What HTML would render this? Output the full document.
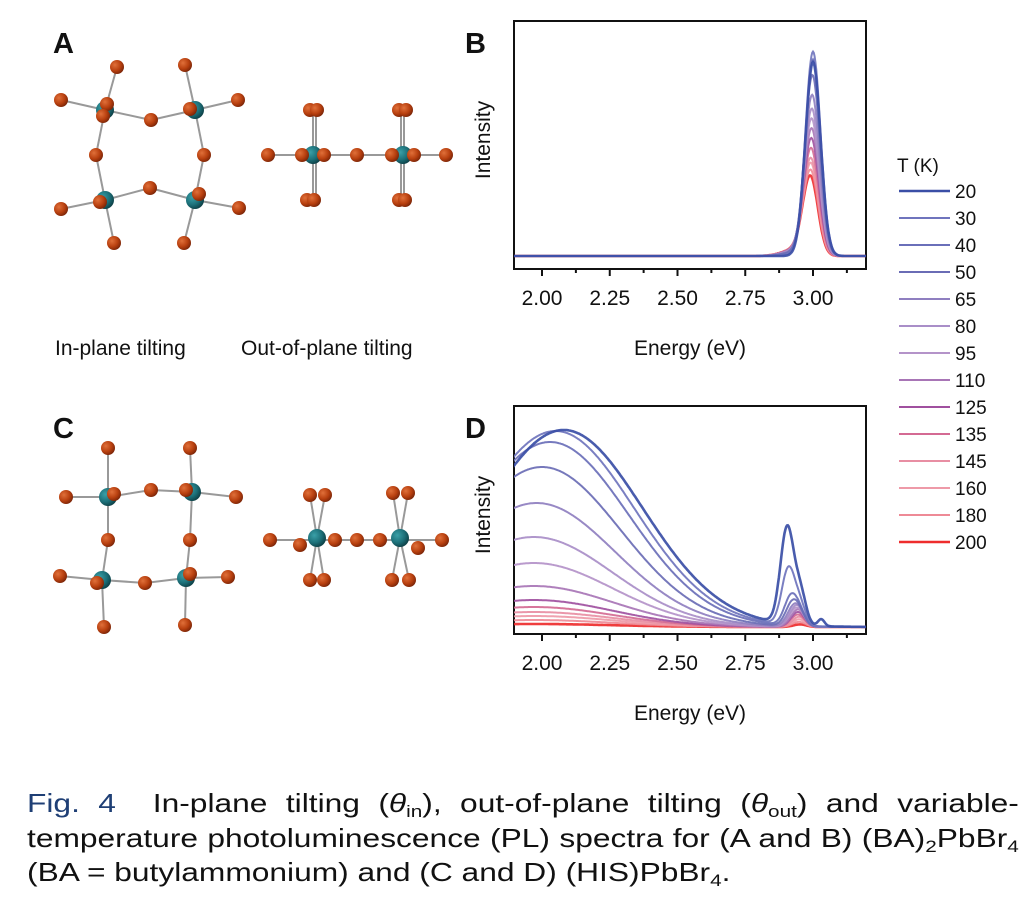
<!DOCTYPE html>
<html><head><meta charset="utf-8"><style>
html,body{margin:0;padding:0;background:#fff;}
body{width:1036px;height:901px;overflow:hidden;position:relative;font-family:"Liberation Sans",sans-serif;}
svg{position:absolute;left:0;top:0;}
.ln{position:absolute;left:27px;width:813px;font-size:26px;line-height:34px;height:34px;color:#111;white-space:nowrap;transform:scaleX(1.22);transform-origin:0 0;}
.j{text-align:justify;text-align-last:justify;}
.ln sub{font-size:17px;position:relative;top:5px;vertical-align:baseline;line-height:0;}
</style></head><body>
<svg id="fig" width="1036" height="901" viewBox="0 0 1036 901">
<defs>
<radialGradient id="br" cx="35%" cy="35%" r="70%"><stop offset="0" stop-color="#e0703a"/><stop offset="0.6" stop-color="#b8400f"/><stop offset="1" stop-color="#7a2508"/></radialGradient>
<radialGradient id="pb" cx="35%" cy="35%" r="70%"><stop offset="0" stop-color="#3aa0a8"/><stop offset="0.6" stop-color="#1c6f78"/><stop offset="1" stop-color="#0d3f45"/></radialGradient>
<clipPath id="clipB"><rect x="514" y="21" width="352" height="247"/></clipPath>
<clipPath id="clipD"><rect x="514" y="406" width="352" height="227"/></clipPath>
</defs>
<g font-family="Liberation Sans, sans-serif" font-weight="bold" font-size="29" fill="#111">
<text x="53" y="53">A</text>
<text x="465" y="53">B</text>
<text x="53" y="438">C</text>
<text x="465" y="438">D</text>
</g>
<g id="mols"></g>
<g font-family="Liberation Sans, sans-serif" font-size="21" fill="#111">
<text x="55" y="355">In-plane tilting</text>
<text x="241" y="355">Out-of-plane tilting</text>
</g>
<g id="panelB"></g>
<g id="panelD"></g>
<g id="legend"></g>
</svg>
<div>
<div class="ln j" style="top:786px"><span style="color:#1f3f75">Fig. 4</span>&nbsp; In-plane tilting (<i>θ</i><sub>in</sub>), out-of-plane tilting (<i>θ</i><sub>out</sub>) and variable-</div>
<div class="ln j" style="top:821px">temperature photoluminescence (PL) spectra for (A and B) (BA)<sub>2</sub>PbBr<sub>4</sub></div>
<div class="ln" style="top:855px">(BA = butylammonium) and (C and D) (HIS)PbBr<sub>4</sub>.</div>
</div>
<script>
const temps=[20,30,40,50,65,80,95,110,125,135,145,160,180,200];
const colors=["#3a4ea6","#6f74bd","#6a6fb9","#6a6cb5","#8f7fc0","#a98ec8","#b493c9","#a875b6","#a0509f","#d46a93","#e88ea3","#ee9aa8","#ee8a96","#ee2c2c"];
const xTicks=[2.00,2.25,2.50,2.75,3.00];
const xMinor=[2.125,2.375,2.625,2.875,3.125];
// Panel B: narrow peak amplitude per temperature
const bAmp=[0.97,1.02,0.98,0.90,0.80,0.73,0.68,0.63,0.58,0.53,0.48,0.455,0.42,0.39];
const bCenter=[3.0,3.0,3.0,2.998,2.997,2.996,2.995,2.995,2.994,2.993,2.992,2.992,2.991,2.99];
// Panel D: broad band and narrow peak amplitudes
const dBroad=[0.985,0.98,0.925,0.80,0.62,0.45,0.32,0.205,0.135,0.10,0.075,0.055,0.035,0.015];
const dBroadC=[2.08,2.05,2.03,2.00,1.98,1.97,1.97,1.97,1.97,1.97,1.97,1.97,1.97,1.97];
const dSharp=[0.485,0.285,0.15,0.12,0.10,0.09,0.08,0.07,0.06,0.05,0.04,0.03,0.02,0.01];
const dSharpC=[2.905,2.91,2.92,2.925,2.93,2.935,2.935,2.94,2.94,2.94,2.945,2.945,2.945,2.95];

const NS="http://www.w3.org/2000/svg";
function mk(tag,attrs,parent){const e=document.createElementNS(NS,tag);for(const k in attrs)e.setAttribute(k,attrs[k]);parent.appendChild(e);return e;}
const xS=e=>542+(e-2)*271;

function axes(g,top,bottom){
  const f=mk('rect',{x:514,y:top,width:352,height:bottom-top,fill:'none',stroke:'#111','stroke-width':2},g);
  
  
  xTicks.forEach(t=>{
    mk('line',{x1:xS(t),x2:xS(t),y1:bottom,y2:bottom+7,stroke:'#111','stroke-width':2},g);
    const tx=mk('text',{x:xS(t),y:bottom+36,'text-anchor':'middle','font-size':21,fill:'#111','font-family':'Liberation Sans, sans-serif'},g);
    tx.textContent=t.toFixed(2);
    
    
  });
  xMinor.forEach(t=>mk('line',{x1:xS(t),x2:xS(t),y1:bottom,y2:bottom+4,stroke:'#111','stroke-width':2},g));
  const xt=mk('text',{x:690,y:bottom+86,'text-anchor':'middle','font-size':21,fill:'#111','font-family':'Liberation Sans, sans-serif'},g);
  xt.textContent='Energy (eV)';
  
  
  const cy=(top+bottom)/2-5;
  const yt=mk('text',{x:0,y:0,'text-anchor':'middle','font-size':21,fill:'#111','font-family':'Liberation Sans, sans-serif',transform:`translate(490,${cy}) rotate(-90)`},g);
  yt.textContent='Intensity';
  
  
}

const gB=document.getElementById('panelB');
axes(gB,21,269);
const cB=mk('g',{'clip-path':'url(#clipB)'},gB);
const yB=v=>256-v*200;
for(let i=temps.length-1;i>=0;i--){
  let d='';
  for(let e=1.89;e<=3.21;e+=0.003){
    const s=0.028;
    let v=bAmp[i]*Math.exp(-Math.pow(e-bCenter[i],2)/(2*s*s));
    v+=bAmp[i]*0.08*Math.exp(-Math.pow(e-2.93,2)/(2*0.045*0.045))*(i/13);
    d+=(d?'L':'M')+xS(e).toFixed(1)+','+yB(v).toFixed(1);
  }
  const p=mk('path',{d:d,fill:'none',stroke:colors[i],'stroke-width':i==0||i==13?2.6:2,'stroke-opacity':0.9},cB);
  
  
}

const gD=document.getElementById('panelD');
axes(gD,406,634);
const cD=mk('g',{'clip-path':'url(#clipD)'},gD);
const yD=v=>627-v*200;
for(let i=temps.length-1;i>=0;i--){
  let d='';
  for(let e=1.89;e<=3.21;e+=0.003){
    const sb=0.29,ss=0.025;
    let v=dBroad[i]*Math.exp(-Math.pow(e-dBroadC[i],2)/(2*sb*sb));
    v+=dSharp[i]*Math.exp(-Math.pow(e-dSharpC[i],2)/(2*ss*ss));
    v+=dSharp[i]*0.3*Math.exp(-Math.pow(e-2.955,2)/(2*0.02*0.02));
    if(i==0)v+=0.035*Math.exp(-Math.pow(e-3.03,2)/(2*0.012*0.012));
    d+=(d?'L':'M')+xS(e).toFixed(1)+','+yD(v).toFixed(1);
  }
  const p=mk('path',{d:d,fill:'none',stroke:colors[i],'stroke-width':i==0||i==13?2.6:2,'stroke-opacity':0.92},cD);
  
  
}

const gL=document.getElementById('legend');
const lt=mk('text',{x:897,y:172,'font-size':19,fill:'#111','font-family':'Liberation Sans, sans-serif'},gL);
lt.textContent='T (K)';


temps.forEach((t,i)=>{
  const y=191+i*27;
  mk('line',{x1:899,x2:950,y1:y,y2:y,stroke:colors[i],'stroke-width':i==0||i==13?2.5:2},gL);
  const tx=mk('text',{x:955,y:y+7,'font-size':19,fill:'#111','font-family':'Liberation Sans, sans-serif'},gL);
  tx.textContent=t;
  
  
});

const gM=document.getElementById('mols');
function mol(bonds,brs,pbs){
  bonds.forEach(b=>mk('line',{x1:b[0],y1:b[1],x2:b[2],y2:b[3],stroke:'#999','stroke-width':2},gM));
  pbs.forEach(p=>mk('circle',{cx:p[0],cy:p[1],r:9,fill:'url(#pb)'},gM));
  brs.forEach(p=>mk('circle',{cx:p[0],cy:p[1],r:7,fill:'url(#br)'},gM));
}
let P=[[105,110],[195,110],[105,200],[195,200]];
mol([[117,67,105,110],[61,100,105,110],[105,110,151,120],[151,120,195,110],[195,110,185,65],[195,110,238,100],[105,110,96,155],[96,155,105,200],[195,110,204,155],[204,155,195,200],[105,200,150,188],[150,188,195,200],[105,200,61,209],[195,200,239,208],[105,200,114,243],[195,200,184,243]],
[[117,67],[61,100],[107,104],[103,116],[185,65],[238,100],[190,109],[151,120],[96,155],[204,155],[150,188],[100,202],[199,194],[61,209],[239,208],[114,243],[184,243]],P);
mol([[268,155,446,155],[313,110,313,200],[316,110,316,200],[401,110,401,200],[404,110,404,200]],
[[310,110],[317,110],[399,110],[406,110],[307,200],[314,200],[399,200],[405,200],[268,155],[446,155],[357,155],[302,155],[324,155],[392,155],[414,155]],[[313,155],[403,155]]);
mol([[108,448,108,497],[190,448,192,492],[66,497,108,497],[192,492,236,497],[108,497,151,490],[151,490,192,492],[108,497,108,540],[108,540,102,580],[192,492,190,540],[190,540,186,578],[102,580,145,583],[145,583,186,578],[60,576,102,580],[186,578,228,577],[102,580,104,627],[186,578,185,625]],
[[108,448],[190,448],[66,497],[236,497],[114,494],[186,490],[151,490],[108,540],[190,540],[145,583],[60,576],[228,577],[97,583],[190,574],[104,627],[185,625]],[[108,497],[192,492],[102,580],[186,578]]);
mol([[270,540,442,540],[310,495,317,538],[325,495,317,538],[317,538,310,580],[317,538,324,580],[393,493,400,538],[408,493,400,538],[400,538,392,580],[400,538,409,580]],
[[310,495],[325,495],[393,493],[408,493],[310,580],[324,580],[392,580],[409,580],[270,540],[442,540],[357,540],[300,545],[335,540],[380,540],[418,548]],[[317,538],[400,538]]);
</script>
</body></html>
